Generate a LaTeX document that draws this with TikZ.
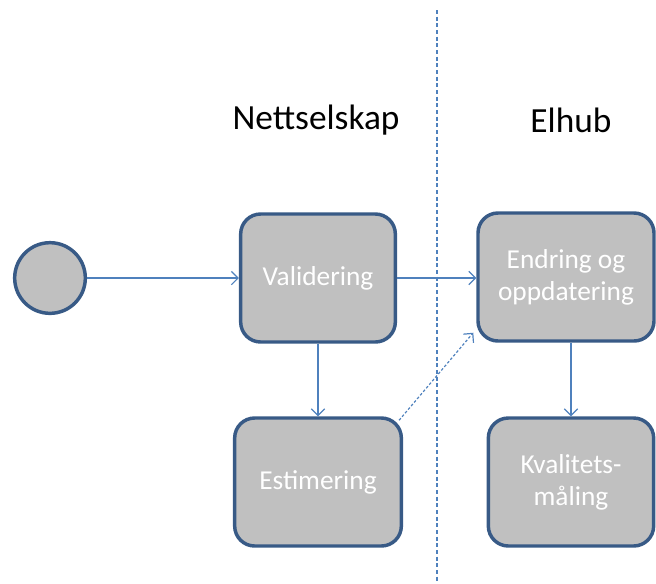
\documentclass[tikz,border=0pt]{standalone}
\usepackage{fontspec}
\setmainfont{Carlito}
\usetikzlibrary{arrows.meta}

\definecolor{boxfill}{RGB}{192,192,192}
\definecolor{boxline}{RGB}{56,90,134}
\definecolor{flowline}{RGB}{79,129,189}

\begin{document}
\begin{tikzpicture}[x=0.75pt,y=0.75pt,yscale=-1,xscale=1,
    activity/.style={draw=boxline,fill=boxfill,line width=2.6pt,rounded corners=15pt,
      minimum height=96pt,align=center,text=white,font=\fontsize{20.5}{24}\selectfont},
    start/.style={circle,draw=boxline,fill=boxfill,line width=2.6pt,minimum size=53pt},
    flow/.style={draw=flowline,line width=0.9pt,-{Straight Barb[length=5pt,width=10pt]}},
    lane/.style={font=\fontsize{26.5}{30}\selectfont}]
  \useasboundingbox (0,0) rectangle (656,583);

  % swimlane divider and titles
  \coordinate (divtop) at (437,10);
  \coordinate (divbot) at (437,583);
  \draw [flowline,line width=0.8pt,dash pattern=on 3pt off 2pt] (divtop) -- (divbot);
  \node [lane] (nett) at (316,120) {Nettselskap};
  \node [lane] (elhub) at (571,120) {Elhub};

  % states
  \node [start] (init) at (50,278) {};
  \node [activity,minimum width=116pt] (valid) at (318,278) {Validering};
  \node [activity,minimum width=125pt] (estim) at (318,482) {Estimering};
  \node [activity,minimum width=132pt] (endr) at (566,277) {Endring og\\oppdatering};
  \node [activity,minimum width=124pt] (kval) at (571,482) {Kvalitets-\\måling};

  % transitions
  \draw [flow] (init) -- (valid);
  \draw [flow] (valid) -- (endr.west |- valid);
  \draw [flow] (valid) -- (estim);
  \draw [flow,dash pattern=on 2pt off 1.5pt] (estim.north east) ++(-4,4) -- ([shift={(-3,-10)}]endr.south west);
  \draw [flow] (endr.south -| kval) -- (kval);
\end{tikzpicture}
\end{document}
